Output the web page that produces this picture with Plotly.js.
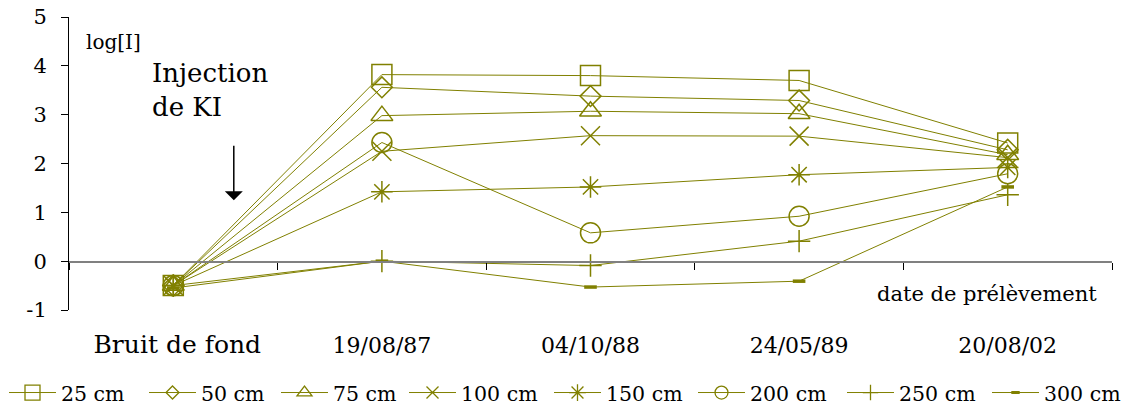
<!DOCTYPE html>
<html><head><meta charset="utf-8">
<script src="https://cdn.plot.ly/plotly-3.0.1.min.js"></script>
<style>body{margin:0;background:#fff}#c{width:1128px;height:405px}</style>
</head><body><div id="c"></div>
<script>
const categories = ["Bruit de fond", "19/08/87", "04/10/88", "24/05/89", "20/08/02"];
const tickLabels = ['<span style="font-size:25px">\u00a0Bruit de fond</span>', "19/08/87", "04/10/88", "24/05/89", "20/08/02"];
const yTickValues = [-1, 0, 1, 2, 3, 4, 5];
const yTickLabels = ["-1", "0", "1", "2", "3", "4", "5"];
const seriesNames = ["25 cm", "50 cm", "75 cm", "100 cm", "150 cm", "200 cm", "250 cm", "300 cm"];
const s25  = [-0.50, 3.82, 3.80, 3.70, 2.42];
const s50  = [-0.50, 3.56, 3.38, 3.29, 2.28];
const s75  = [-0.50, 2.98, 3.07, 3.02, 2.18];
const s100 = [-0.50, 2.25, 2.57, 2.56, 2.12];
const s150 = [-0.50, 1.42, 1.52, 1.77, 1.92];
const s200 = [-0.50, 2.43, 0.58, 0.92, 1.79];
const s250 = [-0.50, 0.00, -0.09, 0.41, 1.36];
const s300 = [-0.55, 0.00, -0.53, -0.41, 1.52];
const allSeries = [s25, s50, s75, s100, s150, s200, s250, s300];
const symbols = ["square-open", "diamond-open", "triangle-up-open", "x-thin-open", "asterisk-open", "circle-open", "cross-thin-open", "line-ew-open"];
const sizes = [20, 16, 19, 19, 18, 20, 16, 9];
const legendSizes = [15, 10, 13, 12, 14, 13, 11, 6];
// left pixel of each legend entry
const legendLeft = [4, 144, 276, 404, 549, 693, 842, 987];
const olive = "#808000";
const font = "DejaVu Serif, Georgia, serif";

const W = 1128, H = 405, ML = 69, MR = 16, MT = 17, MB = 95;
const plotW = W - ML - MR;

const traces = [];
allSeries.forEach((vals, i) => {
  traces.push({
    type: "scatter", mode: "lines+markers",
    x: categories, y: vals, name: seriesNames[i], showlegend: false,
    line: {color: olive, width: 1},
    marker: {symbol: symbols[i], size: sizes[i], color: olive,
             line: {color: olive, width: i === 7 ? 3.5 : 1.5}},
    cliponaxis: false
  });
});
// legend entries (no data points drawn), one legend box per entry
allSeries.forEach((vals, i) => {
  traces.push({
    type: "scatter", mode: "lines+markers",
    x: [null], y: [null], name: seriesNames[i], showlegend: true,
    legend: i === 0 ? "legend" : "legend" + (i + 1),
    line: {color: olive, width: 1},
    marker: {symbol: symbols[i], size: legendSizes[i], color: olive,
             line: {color: olive, width: i === 7 ? 3 : 1.3}}
  });
});

const layout = {
  width: W, height: H,
  margin: {l: ML, r: MR, t: MT, b: MB, autoexpand: false},
  paper_bgcolor: "#fff", plot_bgcolor: "#fff",
  font: {family: font, size: 18, color: "#000"},
  showlegend: true,
  xaxis: {
    type: "category", categoryorder: "array", categoryarray: categories,
    tickvals: categories, ticktext: tickLabels,
    range: [-0.5, 4.5], anchor: "free", position: 1/6,
    showline: true, linecolor: "#808080", linewidth: 1.5,
    tickson: "boundaries", ticks: "outside", ticklen: 7, tickcolor: "#000",
    ticklabelstandoff: 64, showgrid: false, zeroline: false,
    tickfont: {family: font, size: 22}
  },
  yaxis: {
    range: [-1, 5], tickvals: yTickValues, ticktext: yTickLabels,
    showline: true, linecolor: "#000", linewidth: 1,
    ticks: "outside", ticklen: 7, tickcolor: "#000", ticklabelstandoff: 10,
    showgrid: false, zeroline: false,
    tickfont: {family: font, size: 21}
  },
  annotations: [
    {xref: "paper", yref: "paper", x: 0.0144, y: 0.915, xanchor: "left", yanchor: "middle",
     text: "log[I]", showarrow: false, font: {family: font, size: 20}},
    {xref: "paper", yref: "paper", x: 0.078, y: 0.751, xanchor: "left", yanchor: "middle",
     text: "Injection<br>de KI", align: "left", showarrow: false, font: {family: font, size: 26}},
    {xref: "paper", yref: "paper", x: 0.158, y: 0.375, text: "", showarrow: true,
     ax: 0, ay: -56, arrowhead: 1, arrowsize: 2, arrowwidth: 1.5, arrowcolor: "#000"},
    {xref: "paper", yref: "paper", x: 0.773, y: 0.055, xanchor: "left", yanchor: "middle",
     text: "date de prélèvement", showarrow: false, font: {family: font, size: 21}}
  ]
};
legendLeft.forEach((px, i) => {
  const key = i === 0 ? "legend" : "legend" + (i + 1);
  layout[key] = {
    orientation: "h", x: (px - ML) / plotW, xanchor: "left", y: -0.214, yanchor: "top",
    font: {family: font, size: 20.5}, itemsizing: "trace", itemwidth: 47,
    bgcolor: "rgba(0,0,0,0)"
  };
});
Plotly.newPlot("c", traces, layout, {staticPlot: true});
</script>
</body></html>
